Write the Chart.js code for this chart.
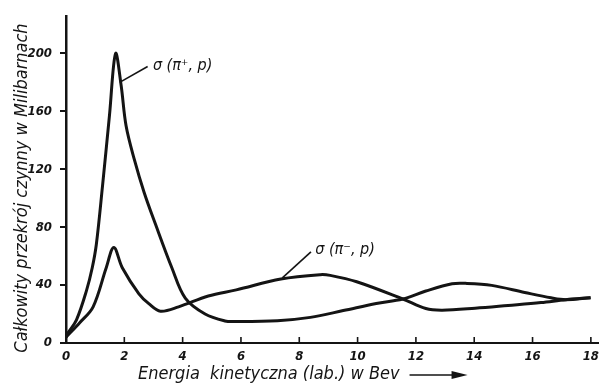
<!DOCTYPE html>
<html>
<head>
<meta charset="utf-8">
<script src="https://cdn.jsdelivr.net/npm/chart.js@4.4.1/dist/chart.umd.min.js"></script>
<style>
  body { margin: 0; background: #fff; }
  canvas { display: block; }
</style>
</head>
<body>
<canvas id="Sigma" width="605" height="386"></canvas>
<script>
// energy in Bev (lab), cross sections in millibarns
var energyPlus = [0, 0.07, 0.36, 0.7, 0.9, 1.04, 1.25, 1.49, 1.7, 1.89, 2.06, 2.34, 2.68, 3.07, 3.63, 4.09, 4.77, 5.45, 5.8, 7.25, 8.38, 9.51, 10.64, 11.55, 12.34, 13.24, 13.7, 14.6, 15.73, 16.63, 17.14, 17.99];
var sigmaPlus  = [4, 7, 16, 36, 52, 68, 108, 157, 200, 178, 150, 127, 104, 82, 52, 31, 20, 15.2, 14.8, 15.4, 17.7, 22.4, 27.3, 30.4, 35.9, 40.9, 41.2, 39.8, 34.9, 31.2, 29.9, 31.3];

var energyMinus = [0, 0.47, 0.93, 1.38, 1.64, 1.93, 2.5, 2.85, 3.24, 3.86, 4.88, 5.84, 7.37, 8.72, 9.06, 9.97, 11.55, 12.34, 12.9, 14.03, 15.16, 16.29, 17.14, 17.99];
var sigmaMinus  = [4, 14, 25, 52, 66, 52, 34, 27, 22, 25, 32.5, 36.7, 44.2, 47.2, 46.7, 42.3, 30.4, 23.8, 22.7, 24, 25.9, 27.9, 29.9, 31.3];

var xTicks = [0, 2, 4, 6, 8, 10, 12, 14, 16, 18];
var yTicks = [0, 40, 80, 120, 160, 200];

var curveNames = ['σ (π⁺, p)', 'σ (π⁻, p)'];
var yTitle = 'Całkowity przekrój czynny w Milibarnach';
var xTitle = 'Energia  kinetyczna (lab.) w Bev';

var ink = '#141414';
var family = "'DejaVu Sans Condensed', 'Liberation Sans Narrow', sans-serif";
var tickFont = { family: family, size: 13, style: 'italic', weight: 'bold' };
var textFont = 'italic 18px ' + family;

function pairs(xs, ys) {
  var out = [];
  for (var i = 0; i < xs.length; i++) out.push({ x: xs[i], y: ys[i] });
  return out;
}

// label anchors in data units: [textX, textY, leaderStartX, leaderStartY, leaderEndX, leaderEndY]
var labelPlace = [
  [2.98, 191.5, 2.8, 191, 1.84, 180],
  [8.55, 64, 8.4, 63, 7.42, 45]
];

var annotate = {
  id: 'annotate',
  afterDraw: function (chart) {
    var ctx = chart.ctx, x = chart.scales.x, y = chart.scales.y;
    ctx.save();
    ctx.strokeStyle = ink;
    ctx.fillStyle = ink;
    // small tick marks standing up from the energy axis
    ctx.lineWidth = 1.6;
    x.ticks.forEach(function (t) {
      if (!t.value) return;
      var px = x.getPixelForValue(t.value);
      ctx.beginPath();
      ctx.moveTo(px, y.bottom);
      ctx.lineTo(px, y.bottom - 6);
      ctx.stroke();
    });
    // curve names with leader lines
    ctx.font = 'italic 16px ' + family;
    ctx.textBaseline = 'middle';
    ctx.textAlign = 'left';
    curveNames.forEach(function (name, i) {
      var p = labelPlace[i];
      ctx.fillText(name, x.getPixelForValue(p[0]), y.getPixelForValue(p[1]));
      ctx.lineWidth = 1.6;
      ctx.beginPath();
      ctx.moveTo(x.getPixelForValue(p[2]), y.getPixelForValue(p[3]));
      ctx.lineTo(x.getPixelForValue(p[4]), y.getPixelForValue(p[5]));
      ctx.stroke();
    });
    // energy axis title with arrow
    ctx.font = textFont;
    var tx = 138, ty = 374;
    ctx.fillText(xTitle, tx, ty);
    var ax = tx + ctx.measureText(xTitle).width + 10;
    ctx.lineWidth = 1.5;
    ctx.beginPath();
    ctx.moveTo(ax, ty + 1);
    ctx.lineTo(ax + 45, ty + 1);
    ctx.stroke();
    ctx.beginPath();
    ctx.moveTo(ax + 58, ty + 1);
    ctx.lineTo(ax + 42, ty - 3);
    ctx.lineTo(ax + 42, ty + 5);
    ctx.closePath();
    ctx.fill();
    // cross-section axis title, rotated
    ctx.translate(22, 188);
    ctx.rotate(-Math.PI / 2);
    ctx.textAlign = 'center';
    ctx.fillText(yTitle, 0, 0);
    ctx.restore();
  }
};

window.addEventListener('load', function () {
  var ctx = document.getElementById('Sigma');
  new Chart(ctx, {
    type: 'line',
    data: {
      datasets: [{
        label: curveNames[0],
        data: pairs(energyPlus, sigmaPlus),
        borderColor: ink,
        borderWidth: 3,
        pointRadius: 0,
        fill: false,
        tension: 0.35
      }, {
        label: curveNames[1],
        data: pairs(energyMinus, sigmaMinus),
        borderColor: ink,
        borderWidth: 3,
        pointRadius: 0,
        fill: false,
        tension: 0.35
      }]
    },
    options: {
      responsive: false,
      animation: false,
      layout: { padding: { top: 12, right: 0, left: 0, bottom: 0 } },
      plugins: { legend: { display: false }, tooltip: { enabled: false } },
      scales: {
        x: {
          type: 'linear',
          min: 0,
          max: 18.27,
          afterBuildTicks: function (s) { s.ticks = xTicks.map(function (v) { return { value: v }; }); },
          afterFit: function (s) { s.height = 43; },
          grid: { display: false, drawTicks: false },
          border: { display: true, color: ink, width: 2 },
          ticks: { color: ink, font: tickFont, padding: 6, maxRotation: 0 }
        },
        y: {
          min: 0,
          max: 226,
          afterBuildTicks: function (s) { s.ticks = yTicks.map(function (v) { return { value: v }; }); },
          afterFit: function (s) { s.width = 66; },
          grid: { drawOnChartArea: false, drawTicks: true, tickLength: 6, color: ink, lineWidth: 2 },
          border: { display: true, color: ink, width: 2.5 },
          ticks: { color: ink, font: tickFont, padding: 8 }
        }
      }
    },
    plugins: [annotate]
  });
});
</script>
</body>
</html>
